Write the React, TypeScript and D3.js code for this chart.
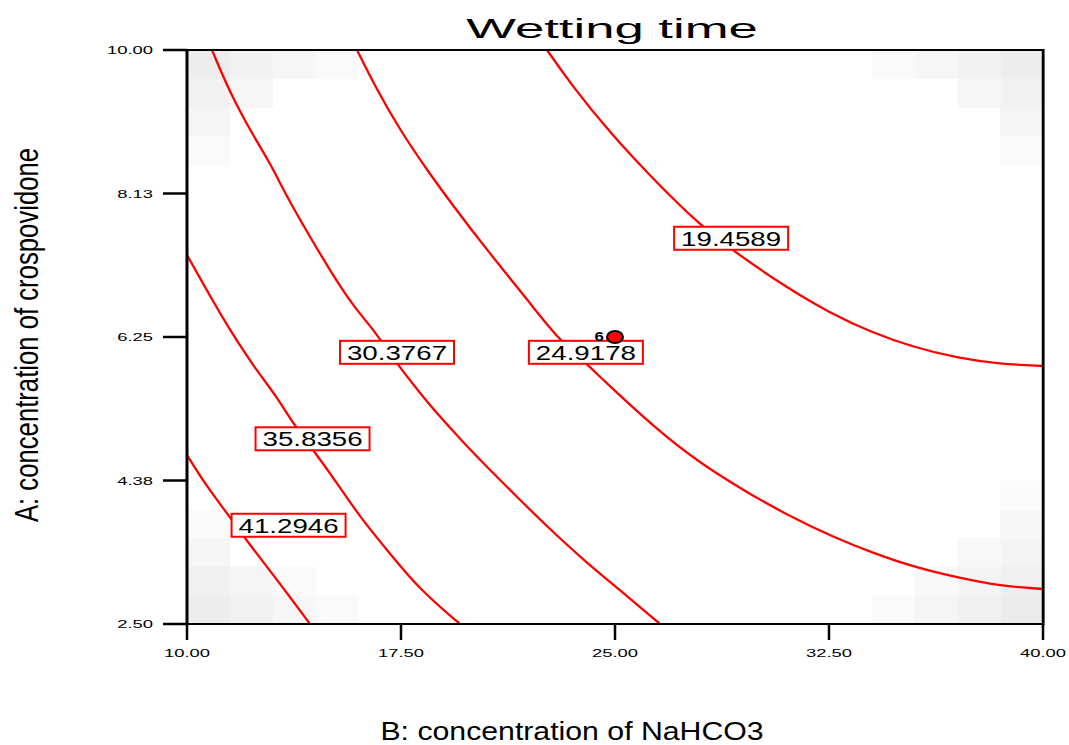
import React from 'react';
import * as d3 from 'd3';

// ---------- data ----------
const xTicks = [10, 17.5, 25, 32.5, 40];
const xTickLabels = ['10.00', '17.50', '25.00', '32.50', '40.00'];
const yTicks = [2.5, 4.375, 6.25, 8.125, 10];
const yTickLabels = ['2.50', '4.38', '6.25', '8.13', '10.00'];

const contourLevels = ['19.4589', '24.9178', '30.3767', '35.8356', '41.2946'];

const c1B = [22.617, 23.423, 24.825, 26.472, 27.979, 29.101, 31.028, 32.535, 34.042, 35.444, 36.986, 38.493, 40];
const c1A = [10, 9.569, 8.915, 8.262, 7.713, 7.387, 6.890, 6.564, 6.302, 6.119, 5.976, 5.897, 5.871];

const c2B = [15.958, 16.659, 17.465, 18.411, 19.358, 20.514, 22.021, 23.038, 24.019, 24.474, 26.472, 27.979, 29.486, 31.028, 32.640, 34.042, 35.584, 37.091, 38.493, 40];
const c2A = [10, 9.477, 8.955, 8.432, 7.949, 7.387, 6.694, 6.211, 5.897, 5.727, 5.035, 4.604, 4.251, 3.924, 3.637, 3.428, 3.232, 3.101, 2.997, 2.957];

const c3B = [10.876, 11.507, 12.348, 12.909, 13.505, 14.311, 15.152, 15.853, 16.554, 17.360, 18.166, 18.867, 19.708, 20.514, 21.671, 22.862, 24.019, 25.175, 26.577];
const c3A = [10, 9.438, 8.863, 8.524, 8.079, 7.557, 7.034, 6.642, 6.341, 5.897, 5.518, 5.205, 4.865, 4.551, 4.120, 3.689, 3.297, 2.944, 2.5];

const c4B = [10, 10.946, 11.507, 12.348, 13.154, 13.750, 14.451, 15.257, 16.063, 17.009, 18.166, 19.568];
const c4A = [7.321, 6.694, 6.341, 5.858, 5.466, 5.100, 4.760, 4.342, 3.898, 3.467, 2.944, 2.5];

const c5B = [10, 10.701, 11.507, 11.998, 12.699, 13.505, 14.311];
const c5A = [4.708, 4.290, 3.898, 3.637, 3.297, 2.905, 2.5];

const contourB = [c1B, c2B, c3B, c4B, c5B];
const contourA = [c1A, c2A, c3A, c4A, c5A];

const labelB = [29.07, 23.98, 17.36, 14.40, 13.56];
const labelA = [7.54, 6.05, 6.05, 4.92, 3.79];

const designB = [25];
const designA = [6.25];
const designLabels = ['6'];

// grey levels of the standard-error shading cells, from each corner outward
const shadeTopLeft = [[237, 242, 246, 250], [241, 246], [245], [250]];
const shadeTopRight = [[237, 242, 246, 250], [241, 246], [245], [250]];
const shadeBottomLeft = [[236, 241, 246, 250], [240, 245, 250], [245], [250]];
const shadeBottomRight = [[235, 240, 245, 250], [239, 244, 249], [243, 248], [247], [251]];

const GRID = 20;

// ---------- layout ----------
const W = 1069;
const H = 745;
const left = 187, right = 1043, top = 50, bottom = 624;
const FONT = "'Liberation Sans', Arial, Helvetica, sans-serif";

function SText(props: any) {
  const { x, y, sx = 1, size, anchor = 'start', weight = 'normal', children, fill = '#000' } = props;
  return (
    <text
      transform={`translate(${x},${y}) scale(${sx},1)`}
      fontSize={size}
      fontFamily={FONT}
      fontWeight={weight}
      textAnchor={anchor}
      fill={fill}
    >
      {children}
    </text>
  );
}

export default function App() {
  const x = d3.scaleLinear().domain([10, 40]).range([left, right]);
  const y = d3.scaleLinear().domain([2.5, 10]).range([bottom, top]);
  const col = d3.scaleBand<number>().domain(d3.range(GRID)).range([left, right]);
  const row = d3.scaleBand<number>().domain(d3.range(GRID)).range([top, bottom]);

  const line = d3
    .line<[number, number]>()
    .x((d) => x(d[0]))
    .y((d) => y(d[1]))
    .curve(d3.curveBasis);

  const cells: { c: number; r: number; g: number }[] = [];
  const addCorner = (pat: number[][], flipX: boolean, flipY: boolean) => {
    pat.forEach((rw, j) =>
      rw.forEach((g, i) => {
        cells.push({ c: flipX ? GRID - 1 - i : i, r: flipY ? GRID - 1 - j : j, g });
      })
    );
  };
  addCorner(shadeTopLeft, false, false);
  addCorner(shadeTopRight, true, false);
  addCorner(shadeBottomLeft, false, true);
  addCorner(shadeBottomRight, true, true);

  return (
    <svg
      width={W}
      height={H}
      viewBox={`0 0 ${W} ${H}`}
      style={{ position: 'absolute', left: 0, top: 0, background: '#fff' }}
    >
      <defs>
        <clipPath id="plotClip">
          <rect x={left} y={top} width={right - left} height={bottom - top} />
        </clipPath>
      </defs>
      <rect x={0} y={0} width={W} height={H} fill="#fff" />

      {/* shading cells */}
      <g>
        {cells.map((d, k) => (
          <rect
            key={k}
            x={col(d.c)}
            y={row(d.r)}
            width={col.bandwidth() + 0.5}
            height={row.bandwidth() + 0.5}
            fill={`rgb(${d.g},${d.g},${d.g})`}
          />
        ))}
      </g>

      {/* contour lines */}
      <g clipPath="url(#plotClip)">
        {contourB.map((bs, k) => {
          const pts = bs.map((b, i) => [b, contourA[k][i]] as [number, number]);
          return <path key={k} d={line(pts) || ''} fill="none" stroke="#ff0000" strokeWidth={2.3} />;
        })}
      </g>

      {/* frame */}
      <line x1={left} x2={right} y1={top} y2={top} stroke="#000" strokeWidth={2} />
      <line x1={left} x2={right} y1={bottom} y2={bottom} stroke="#000" strokeWidth={2} />
      <line x1={left} x2={left} y1={top - 1} y2={bottom + 1} stroke="#000" strokeWidth={3} />
      <line x1={right + 1} x2={right + 1} y1={top - 1} y2={bottom + 1} stroke="#888" strokeWidth={2} />
      <line x1={right} x2={right} y1={top - 1} y2={bottom + 1} stroke="#000" strokeWidth={2.5} />

      {/* x ticks */}
      {xTicks.map((t, i) => (
        <g key={'xt' + i}>
          <line x1={x(t)} x2={x(t)} y1={bottom} y2={bottom + 16} stroke="#000" strokeWidth={2.5} />
          <SText x={x(t)} y={bottom + 33} sx={1.6} size={11.5} anchor="middle">
            {xTickLabels[i]}
          </SText>
        </g>
      ))}

      {/* y ticks */}
      {yTicks.map((t, i) => (
        <g key={'yt' + i}>
          <line x1={left - 24} x2={left} y1={y(t)} y2={y(t)} stroke="#000" strokeWidth={2.5} />
          <SText x={153} y={y(t) + 4} sx={1.6} size={11.5} anchor="end">
            {yTickLabels[i]}
          </SText>
        </g>
      ))}

      {/* contour labels */}
      {contourLevels.map((lab, k) => {
        const cx = x(labelB[k]);
        const cy = y(labelA[k]);
        return (
          <g key={'lab' + k}>
            <rect x={cx - 57} y={cy - 11.5} width={114} height={23} fill="#fff" stroke="#ff0000" strokeWidth={2} />
            <SText x={cx} y={cy + 7.5} sx={1.42} size={19.5} anchor="middle">
              {lab}
            </SText>
          </g>
        );
      })}

      {/* design point */}
      {designB.map((b, i) => (
        <g key={'dp' + i}>
          <ellipse cx={x(b)} cy={y(designA[i])} rx={8} ry={6} fill="#ff0000" stroke="#000" strokeWidth={2} />
          <SText x={x(b) - 11} y={y(designA[i]) + 4} sx={1.3} size={13} anchor="end" weight="bold">
            {designLabels[i]}
          </SText>
        </g>
      ))}

      {/* title */}
      <SText x={612} y={38} sx={1.95} size={27} anchor="middle">
        Wetting time
      </SText>

      {/* axis titles */}
      <SText x={572} y={740} sx={1.21} size={25} anchor="middle">
        B: concentration of NaHCO3
      </SText>
      <text
        transform="translate(38,335) scale(1.3,1) rotate(-90)"
        fontSize={25.7}
        fontFamily={FONT}
        textAnchor="middle"
        fill="#000"
      >
        A: concentration of crospovidone
      </text>
    </svg>
  );
}
